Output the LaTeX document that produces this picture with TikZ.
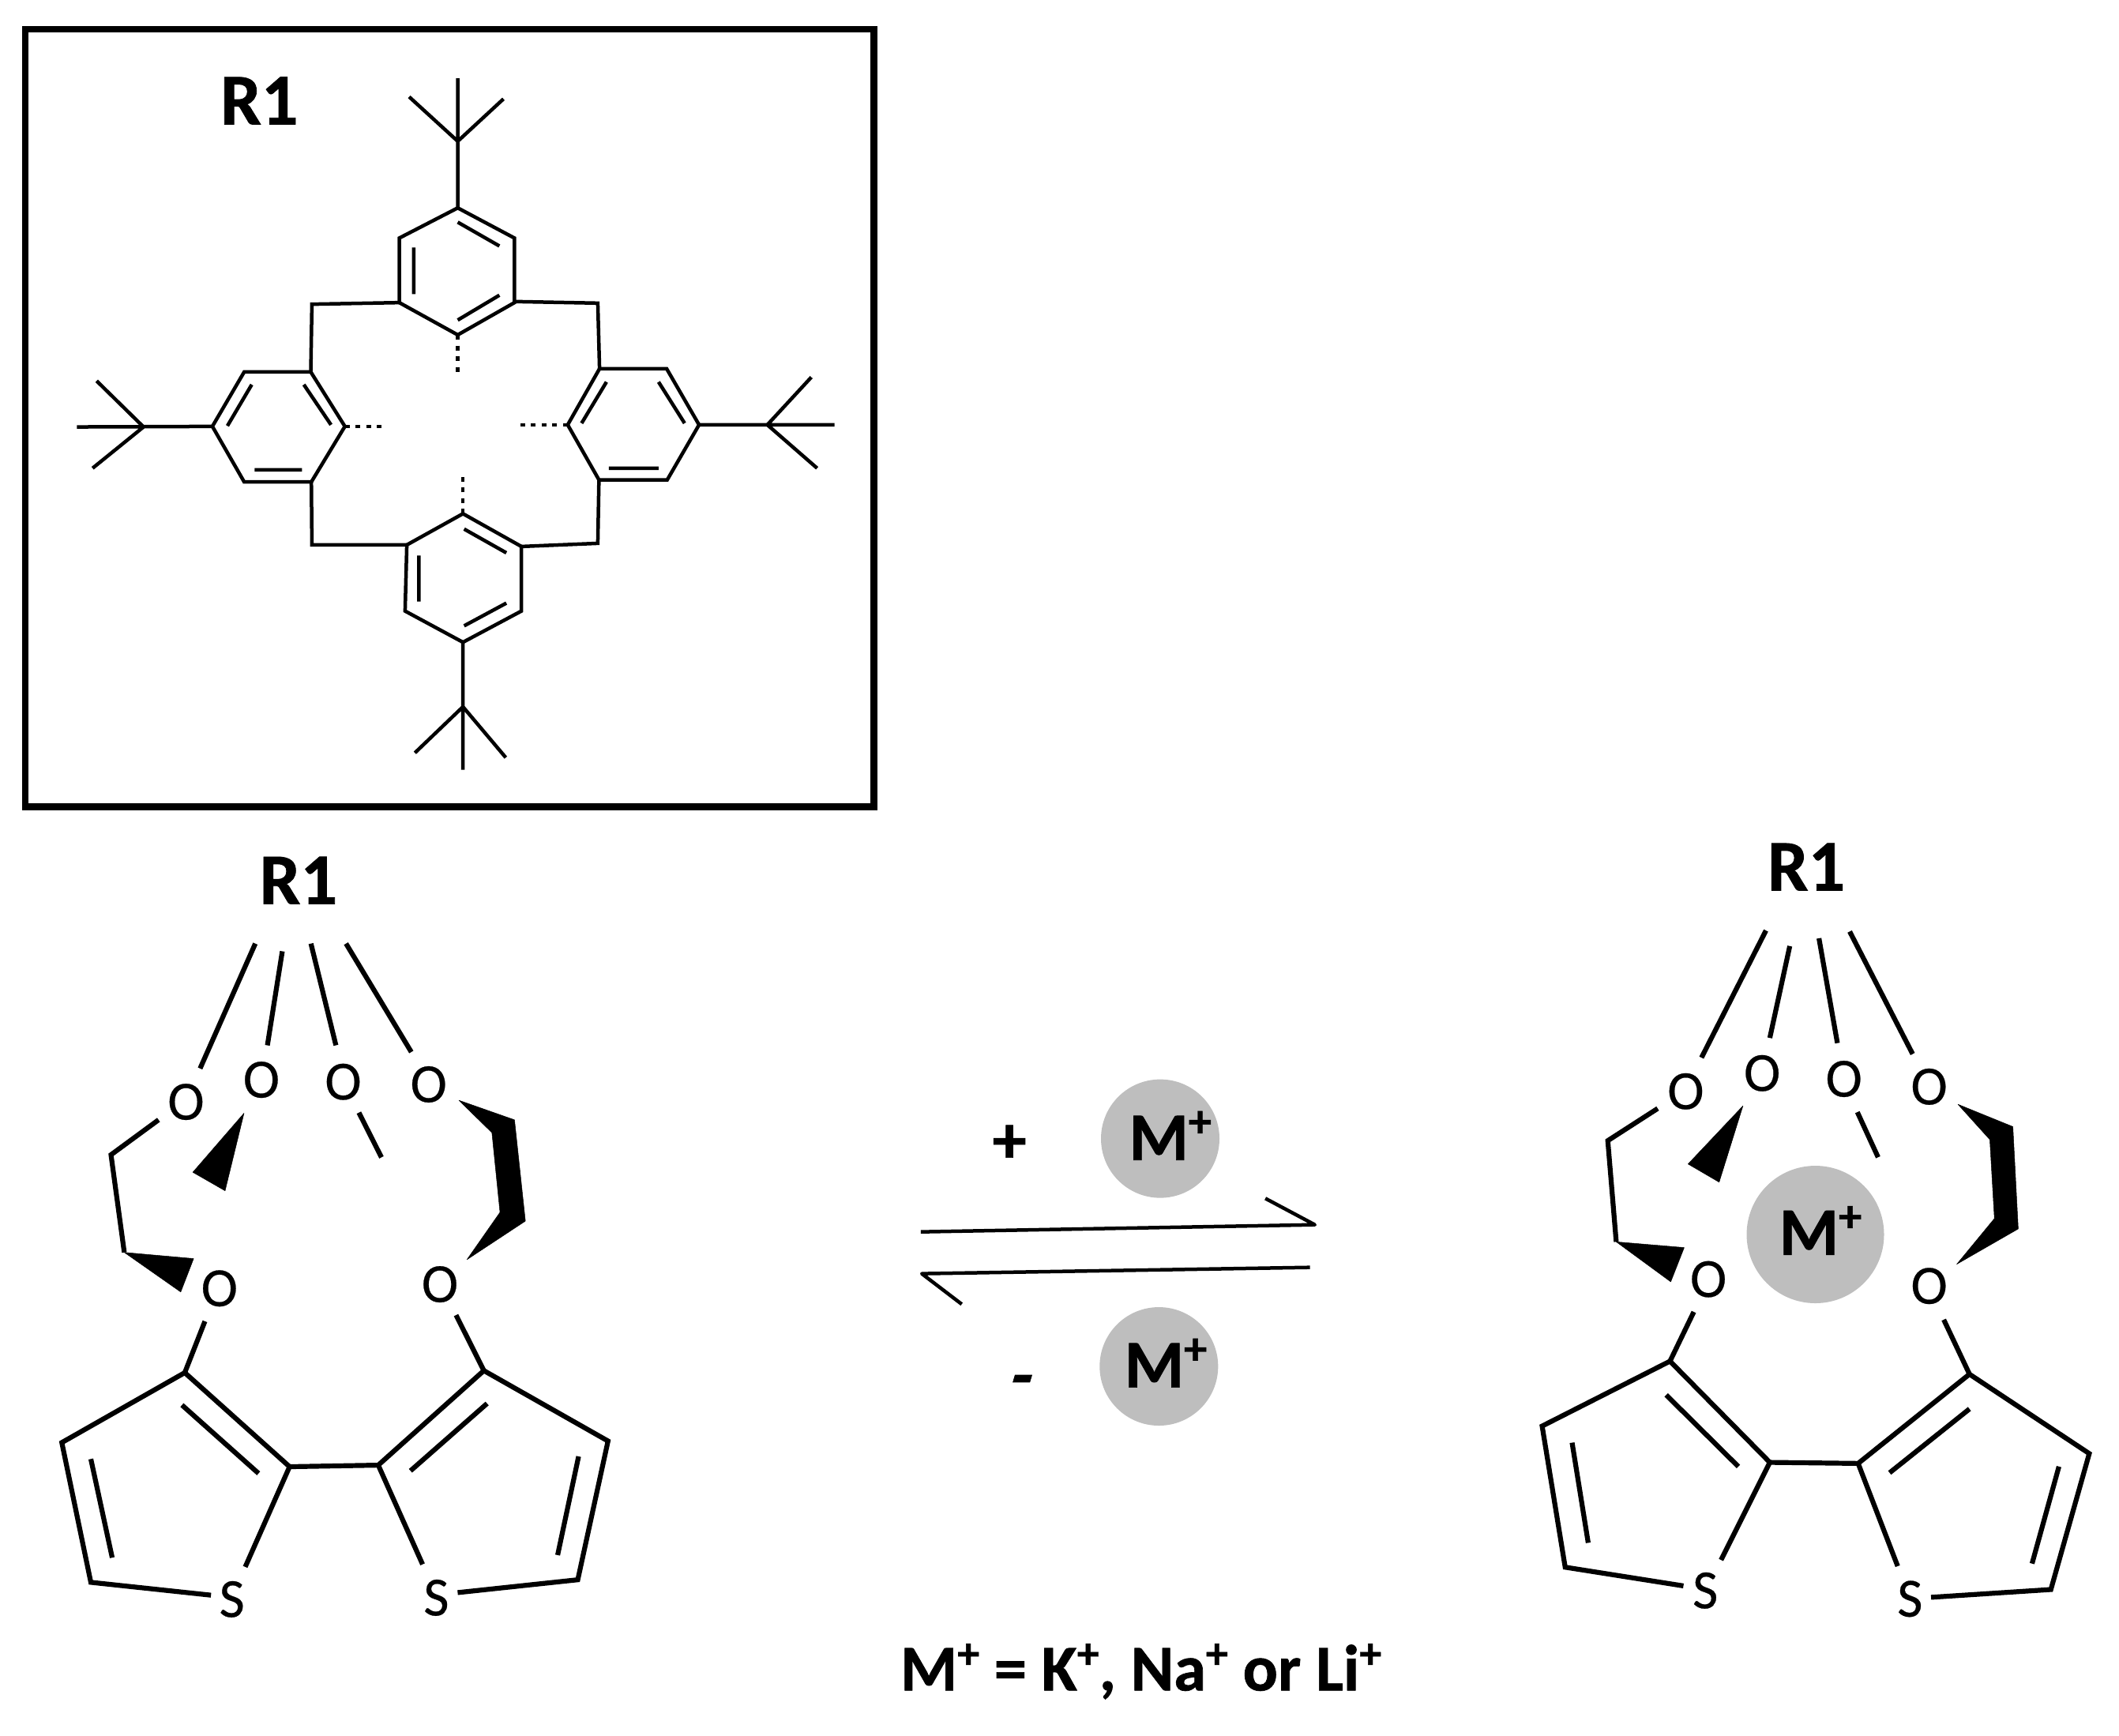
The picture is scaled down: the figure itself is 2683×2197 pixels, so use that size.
\documentclass[tikz,border=0pt]{standalone}
\usepackage{fontspec}
\usepackage{graphicx}
\setmainfont{Carlito}[BoldFeatures={FakeBold=0.8}]
\newfontfamily\atomfont{Carlito}[FakeBold=0.35]
\newcommand{\splus}{\raisebox{.34em}{\scalebox{.68}{+}}}
\tikzset{
  px/.style={x=0.1mm,y=-0.1mm},
  za/.style={shift={(0,0)},x=0.07327mm,y=-0.06698mm},
  zb/.style={shift={(40,1060)},x=0.05104mm,y=-0.06506mm},
  zc/.style={shift={(1100,1340)},x=0.04475mm,y=-0.05294mm},
  zd/.style={shift={(1920,1050)},x=0.04862mm,y=-0.0657mm},
  thinbond/.style={line width=0.45mm,line join=miter,black},
  bond/.style={line width=0.62mm,line join=miter,black},
  dots/.style={line width=0.45mm,dash pattern=on 0.6mm off 0.75mm,black},
  wedge/.style={fill=black,draw=black,line width=0.05mm,line join=round},
  frame/.style={line width=0.85mm,black},
  arrowline/.style={line width=0.45mm,line join=round,black},
  atom/.style={inner sep=0pt,font=\fontsize{19.9}{22}\selectfont\atomfont},
  title/.style={inner sep=0pt,anchor=base,font=\fontsize{26.2}{28}\selectfont\bfseries},
  ion/.style={inner sep=0pt,anchor=base west,font=\fontsize{24.5}{26}\selectfont\bfseries},
  sign/.style={inner sep=0pt,font=\fontsize{24.5}{26}\selectfont\bfseries},
  caption/.style={inner sep=0pt,anchor=base,font=\fontsize{23.5}{26}\selectfont\bfseries},
  metal/.style={fill=black!25.5,draw=none}
}
\begin{document}
\begin{tikzpicture}[px]
\useasboundingbox (0,0) rectangle (2683,2197);
% ---------- R1 box
\begin{scope}[za]
\draw[frame] (44,55) rectangle (1510,1525);
\node[title] (r1box) at (448,235) {R1};
% top ring
\draw[thinbond] (791,393)--(889,450)--(889,572)--(791,633)--(690,572)--(690,450)--cycle;
\draw[thinbond] (791,420)--(863,465) (715,468)--(715,556) (791,605)--(863,558);
\draw[thinbond] (791,393)--(791,148) (707,183)--(791,267)--(870,187);
\draw[dots] (791,633)--(791,705);
\draw[thinbond] (690,572)--(539,575)--(537,703) (889,570)--(1033,573)--(1036,697);
% left ring
\draw[thinbond] (422,703)--(537,703)--(596,806)--(538,911)--(422,911)--(367,806)--cycle;
\draw[thinbond] (525,727)--(572,803) (435,727)--(393,805) (440,888)--(522,888);
\draw[thinbond] (367,806)--(133,807) (167,720)--(248,807)--(160,885);
\draw[dots] (596,806)--(662,806);
% right ring
\draw[thinbond] (1036,697)--(1152,697)--(1208,803)--(1153,907)--(1035,907)--(981,803)--cycle;
\draw[thinbond] (1048,722)--(1005,800) (1138,722)--(1183,800) (1052,885)--(1138,885);
\draw[thinbond] (1208,803)--(1442,803) (1402,713)--(1326,803)--(1412,885);
\draw[dots] (981,803)--(893,803);
% bottom ring
\draw[thinbond] (800,971)--(901,1033)--(901,1155)--(800,1214)--(700,1155)--(703,1030)--cycle;
\draw[thinbond] (802,1000)--(875,1045) (724,1050)--(724,1137) (802,1183)--(875,1140);
\draw[thinbond] (703,1030)--(539,1030)--(538,911) (901,1033)--(1033,1027)--(1035,907);
\draw[dots] (800,971)--(800,900);
\draw[thinbond] (800,1214)--(800,1455) (717,1423)--(800,1336)--(874,1432);
\end{scope}
% ---------- left molecule
\begin{scope}[zb]
\node[title] (r1left) at (662,130) {R1};
\draw[bond] (555,207)--(418,450) (622,222)--(585,405) (693,207)--(755,405) (780,207)--(942,418);
\node[atom] (la) at (383,515) {O};
\node[atom] (lb) at (570,472) {O};
\node[atom] (lc) at (773,476) {O};
\node[atom] (ld) at (985,481) {O};
\node[atom] (le) at (466,878) {O};
\node[atom] (lf) at (1013,870) {O};
\node[atom] (ls) at (497,1483) {S};
\node[atom] (lt) at (1004,1480) {S};
\draw[bond] (315,550)--(197,618)--(230,808);
\fill[wedge] (230,808)--(402,820)--(370,885)--cycle;
\fill[wedge] (527,537)--(400,652)--(480,688)--cycle;
\draw[bond] (812,536)--(868,623);
\fill[wedge] (1060,512)--(1198,550)--(1225,747)--(1080,822)--(1162,730)--(1142,575)--cycle;
\draw[bond] (430,942)--(380,1042) (1053,930)--(1122,1038);
\draw[bond] (445,1475)--(147,1450)--(75,1178)--(380,1042)--(640,1225)--(530,1420);
\draw[bond] (640,1225)--(860,1222);
\draw[bond] (373,1105)--(563,1238) (147,1210)--(200,1402);
\draw[bond] (970,1415)--(860,1222)--(1122,1038)--(1430,1175)--(1355,1445)--(1057,1470);
\draw[bond] (940,1233)--(1130,1102) (1357,1205)--(1305,1397);
\end{scope}
% ---------- centre
\begin{scope}[zc]
\node[sign] (plus) at (398,205) {+};
\node[sign,xslant=0.3] (minus) at (428,785) {-};
\draw[arrowline] (147,415)--(1262,398)--(1122,335);
\draw[arrowline] (1248,500)--(150,515)--(263,588);
\end{scope}
\fill[metal] (1469,1441.6) circle (75);
\fill[metal] (1467.3,1730) circle (75);
\fill[metal] (2298.5,1563) circle (87);
\begin{scope}[zc]
\node[ion] (mtop) at (735,243) {M\splus};
\node[ion] (mbot) at (722,787) {M\splus};
\node[caption] (legend) at (770,1512) {M\splus{} = K\splus, Na\splus{} or Li\splus};
\end{scope}
% ---------- right molecule
\begin{scope}[zd]
\node[title] (r1right) at (755,118) {R1};
\draw[bond] (650,195)--(482,440) (712,225)--(660,402) (788,210)--(836,412) (868,197)--(1032,433);
\node[atom] (ra) at (441,505) {O};
\node[atom] (rb) at (640,470) {O};
\node[atom] (rc) at (853,481) {O};
\node[atom] (rd) at (1075,496) {O};
\node[atom] (re) at (500,867) {O};
\node[atom] (rf) at (1075,880) {O};
\node[atom] (rs) at (492,1467) {S};
\node[atom] (rt) at (1025,1483) {S};
\draw[bond] (368,538)--(238,600)--(260,795);
\fill[wedge] (260,795)--(437,806)--(402,872)--cycle;
\fill[wedge] (590,533)--(447,645)--(528,680)--cycle;
\draw[bond] (888,545)--(942,632);
\fill[wedge] (1150,530)--(1293,573)--(1307,770)--(1147,838)--(1245,750)--(1233,598)--cycle;
\draw[bond] (462,930)--(400,1025) (1113,945)--(1180,1050);
\draw[bond] (435,1458)--(127,1422)--(67,1150)--(400,1025)--(660,1220)--(533,1408);
\draw[bond] (660,1220)--(890,1222);
\draw[bond] (390,1090)--(578,1228) (145,1182)--(187,1375);
\draw[bond] (993,1420)--(890,1222)--(1180,1050)--(1492,1203)--(1392,1465)--(1080,1480);
\draw[bond] (972,1240)--(1180,1117) (1413,1228)--(1343,1415);
\node[ion] (mright) at (683,820) {M\splus};
\end{scope}
\end{tikzpicture}
\end{document}
